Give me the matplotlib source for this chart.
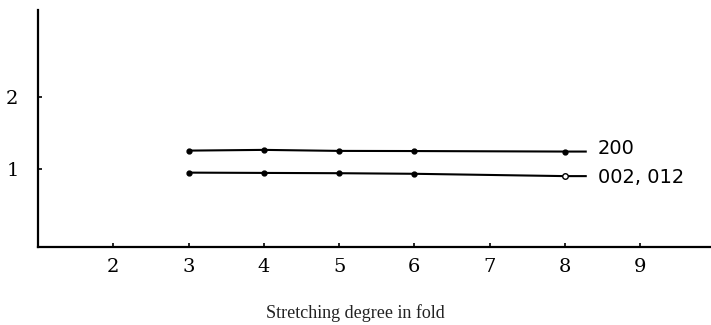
import matplotlib
matplotlib.use("Agg")
import matplotlib.pyplot as plt

# Data
stretch = [3, 4, 5, 6, 8]
y_200 = [1.256, 1.266, 1.252, 1.250, 1.243]
y_002_012 = [0.953, 0.949, 0.945, 0.937, 0.905]
line_end = 8.29
series_labels = ["200", "002, 012"]
x_ticks = [2, 3, 4, 5, 6, 7, 8, 9]
y_ticks = [1, 2]
x_label = "Stretching degree in fold"

fig = plt.figure(figsize=(7.11, 3.25), dpi=100)
ax = fig.add_axes([0.0534, 0.241, 0.9466, 0.728])
ax.set_xlim(1, 9.94)
ax.set_ylim(-0.066, 3.19)

for ys, lab in zip([y_200, y_002_012], series_labels):
    ax.plot(stretch + [line_end], ys + [ys[-1]], color="black", lw=1.5,
            solid_capstyle="butt")
    ax.plot(stretch[:-1], ys[:-1], "o", color="black", ms=3.5)

ax.text(line_end + 0.15, y_200[-1] + 0.04, series_labels[0], fontsize=14,
        va="center", ha="left", family="DejaVu Sans")
ax.text(line_end + 0.15, y_002_012[-1] - 0.02, series_labels[1], fontsize=14,
        va="center", ha="left", family="DejaVu Sans")

# last marker styles: 200 filled, 002/012 open
ax.plot([stretch[-1]], [y_200[-1]], "o", color="black", ms=3.5)
ax.plot([stretch[-1]], [y_002_012[-1]], "o", mfc="white", mec="black",
        mew=1.0, ms=4)

for s in ["top", "right"]:
    ax.spines[s].set_visible(False)
for s in ["left", "bottom"]:
    ax.spines[s].set_linewidth(1.6)

ax.set_xticks(x_ticks)
ax.set_yticks(y_ticks)
ax.tick_params(axis="both", direction="in", length=3, width=1.2,
               labelsize=14)
ax.tick_params(axis="x", pad=8)
ax.tick_params(axis="y", pad=14)
for lbl in ax.get_xticklabels() + ax.get_yticklabels():
    lbl.set_family("DejaVu Serif")

fig.text(0.5, 0.037, x_label, ha="center", va="center", fontsize=13,
         family="Liberation Serif", color="#222222")

fig.savefig("out.png", dpi=100)
